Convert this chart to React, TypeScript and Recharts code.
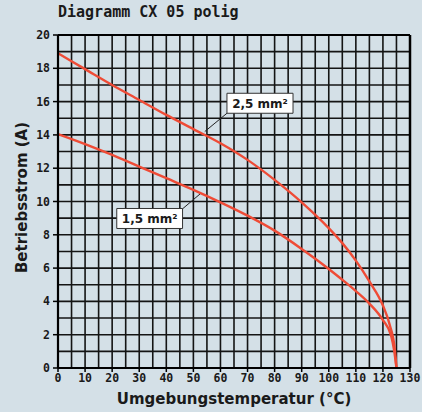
import React from 'react';
import {
  LineChart,
  Line,
  XAxis,
  YAxis,
  CartesianGrid,
  ReferenceArea,
  ReferenceLine,
} from 'recharts';

// Temperatur (°C) / Strom (A)
const temp25 = [0, 10, 20, 30, 40, 50, 60, 70, 80, 90, 100, 105, 110, 115, 120, 122.5, 124.4, 125];
const strom25 = [18.9, 17.95, 17.0, 16.1, 15.2, 14.35, 13.5, 12.5, 11.3, 9.95, 8.4, 7.5, 6.45, 5.2, 3.75, 2.6, 1.1, 0];

const temp15 = [0, 10, 20, 30, 40, 50, 60, 70, 80, 90, 100, 105, 110, 115, 120, 123, 124.2, 125];
const strom15 = [14.05, 13.45, 12.8, 12.1, 11.4, 10.7, 9.95, 9.15, 8.25, 7.15, 5.95, 5.3, 4.62, 3.87, 2.88, 1.95, 1.0, 0];

const xTicks = [0, 10, 20, 30, 40, 50, 60, 70, 80, 90, 100, 110, 120, 130];
const yTicks = [0, 2, 4, 6, 8, 10, 12, 14, 16, 18, 20];
const gridX = [0, 5, 10, 15, 20, 25, 30, 35, 40, 45, 50, 55, 60, 65, 70, 75, 80, 85, 90, 95, 100, 105, 110, 115, 120, 125, 130];
const gridY = [0, 1, 2, 3, 4, 5, 6, 7, 8, 9, 10, 11, 12, 13, 14, 15, 16, 17, 18, 19, 20];

const data25 = temp25.map((t, i) => ({ t, a: strom25[i] }));
const data15 = temp15.map((t, i) => ({ t, a: strom15[i] }));

const BG = '#d4e0e7';
const RED = '#ef4b36';
const mono = '"DejaVu Sans Mono", monospace';
const sans = '"DejaVu Sans", sans-serif';

export default function App() {
  return (
    <div style={{ position: 'fixed', left: 0, top: 0, width: 422, height: 412, background: BG }}>
      <div
        style={{
          position: 'absolute',
          left: 58,
          top: 3,
          fontFamily: mono,
          fontWeight: 700,
          fontSize: 15,
          color: '#1a1a1a',
          whiteSpace: 'nowrap',
        }}
      >
        Diagramm CX 05 polig
      </div>
      <LineChart
        width={422}
        height={412}
        margin={{ top: 35, right: 12, bottom: 0, left: 0 }}
        style={{ position: 'absolute', left: 0, top: 0 }}
      >
        <CartesianGrid
          horizontalValues={gridY}
          verticalValues={gridX}
          stroke="#141414"
          strokeWidth={1.6}
          fill={BG}
        />
        <XAxis
          dataKey="t"
          type="number"
          domain={[0, 130]}
          ticks={xTicks}
          interval={0}
          height={44}
          tickSize={4}
          tickMargin={2}
          axisLine={{ stroke: '#000', strokeWidth: 2.2 }}
          tickLine={{ stroke: '#000', strokeWidth: 1.5 }}
          tick={{ fill: '#1a1a1a', fontFamily: mono, fontWeight: 700, fontSize: 11.5 }}
          label={({ viewBox }: any) => (
            <text
              x={viewBox.x + viewBox.width / 2}
              y={404}
              textAnchor="middle"
              fill="#1a1a1a"
              fontFamily={sans}
              fontWeight={700}
              fontSize={15}
            >
              Umgebungstemperatur (°C)
            </text>
          )}
        />
        <YAxis
          type="number"
          domain={[0, 20]}
          ticks={yTicks}
          interval={0}
          width={58}
          tickSize={5}
          tickMargin={3}
          axisLine={{ stroke: '#000', strokeWidth: 2.2 }}
          tickLine={{ stroke: '#000', strokeWidth: 1.5 }}
          tick={{ fill: '#1a1a1a', fontFamily: mono, fontWeight: 700, fontSize: 11.5 }}
          label={({ viewBox }: any) => (
            <text
              x={27}
              y={viewBox.y + viewBox.height / 2 - 4}
              transform={`rotate(-90, 27, ${viewBox.y + viewBox.height / 2 - 4})`}
              textAnchor="middle"
              fill="#1a1a1a"
              fontFamily={sans}
              fontWeight={700}
              fontSize={15}
            >
              Betriebsstrom (A)
            </text>
          )}
        />
        <ReferenceLine x={130} stroke="#000" strokeWidth={2.5} />
        <ReferenceLine y={20} stroke="#000" strokeWidth={1.8} />
        <ReferenceLine
          segment={[{ x: 62.4, y: 15.3 }, { x: 54.2, y: 14.2 }]}
          stroke="#222"
          strokeWidth={1}
        />
        <ReferenceLine
          segment={[{ x: 46.0, y: 9.56 }, { x: 52.8, y: 10.5 }]}
          stroke="#222"
          strokeWidth={1}
        />
        <ReferenceArea
          x1={62.4}
          x2={86.8}
          y1={15.3}
          y2={16.5}
          fill="#ffffff"
          fillOpacity={1}
          stroke="#333"
          strokeWidth={1}
          label={{ value: '2,5 mm²', position: 'center', fill: '#1a1a1a', fontFamily: sans, fontWeight: 700, fontSize: 12 }}
        />
        <ReferenceArea
          x1={21.7}
          x2={46.0}
          y1={8.38}
          y2={9.58}
          fill="#ffffff"
          fillOpacity={1}
          stroke="#333"
          strokeWidth={1}
          label={{ value: '1,5 mm²', position: 'center', fill: '#1a1a1a', fontFamily: sans, fontWeight: 700, fontSize: 12 }}
        />
        <Line
          data={data25}
          dataKey="a"
          type="monotone"
          stroke={RED}
          strokeWidth={2.4}
          dot={false}
          isAnimationActive={false}
        />
        <Line
          data={data15}
          dataKey="a"
          type="monotone"
          stroke={RED}
          strokeWidth={2.4}
          dot={false}
          isAnimationActive={false}
        />
      </LineChart>
    </div>
  );
}
